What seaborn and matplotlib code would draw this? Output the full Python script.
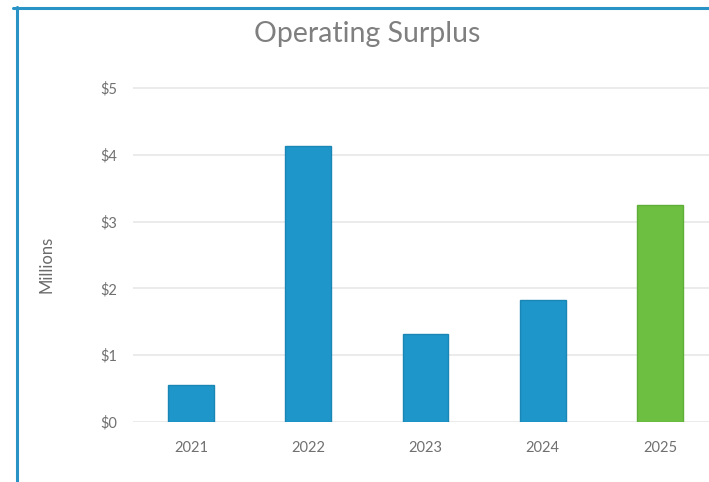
import matplotlib
matplotlib.use("Agg")
import matplotlib.pyplot as plt
import seaborn as sns
import pandas as pd

years = ["2021", "2022", "2023", "2024", "2025"]
surplus_millions = [0.56, 4.13, 1.31, 1.82, 3.25]
bar_colors = ["#1e96c9", "#1e96c9", "#1e96c9", "#1e96c9", "#6cbf40"]
edge_colors = ["#1a86b5", "#1a86b5", "#1a86b5", "#1a86b5", "#5fae37"]
y_ticks = [0, 1, 2, 3, 4, 5]
y_tick_labels = ["$0", "$1", "$2", "$3", "$4", "$5"]

df = pd.DataFrame({"year": years, "surplus": surplus_millions})

sns.set_theme(style="white")
plt.rcParams["font.family"] = ["Lato", "DejaVu Sans"]

W, H = 709, 482
fig = plt.figure(figsize=(W / 100, H / 100), dpi=100)
fig.patch.set_facecolor("white")

# axes extends slightly past the right edge of the canvas
left, right = 132.5, 718.5
top, bottom = 55, 422.0
ax = fig.add_axes([left / W, 1 - bottom / H, (right - left) / W, (bottom - top) / H])

sns.barplot(data=df, x="year", y="surplus", hue="year", palette=bar_colors,
            width=0.39, legend=False, ax=ax, saturation=1, zorder=3)
for patch, ec in zip(ax.patches, edge_colors):
    patch.set_edgecolor(ec)
    patch.set_linewidth(1.0)

ymax = 5 + (422 - 55 - 5 * 66.8) / 66.8
ax.set_ylim(0, ymax)
ax.set_xlim(-0.5, len(years) - 0.5)
ax.set_yticks(y_ticks)
ax.set_yticklabels(y_tick_labels)
ax.yaxis.grid(True, color="#e8e8e8", linewidth=1.2, zorder=0)
ax.xaxis.grid(False)
for s in ax.spines.values():
    s.set_visible(False)
ax.tick_params(axis="both", length=0, labelsize=10.5, colors="#707070")
ax.tick_params(axis="y", pad=11)
ax.tick_params(axis="x", pad=14)
ax.set_xlabel("")
ax.set_ylabel("")

fig.text(47 / W, 1 - 264 / H, "Millions", rotation=90, ha="center", va="center",
         fontsize=12, color="#6a6a6a")
fig.text(367 / W, 1 - 34 / H, "Operating Surplus", ha="center", va="center",
         fontsize=20.5, color="#7f7f7f")

# frame drawn along the top and left edges
fig.add_artist(plt.Line2D([13 / W, 1.0], [1 - 7.5 / H, 1 - 7.5 / H],
                          color="#2a93c6", linewidth=2.2, transform=fig.transFigure))
fig.add_artist(plt.Line2D([16.5 / W, 16.5 / W], [0, 1 - 6.5 / H],
                          color="#2a93c6", linewidth=2.2, transform=fig.transFigure))

fig.savefig("out.png", dpi=100, facecolor="white")
